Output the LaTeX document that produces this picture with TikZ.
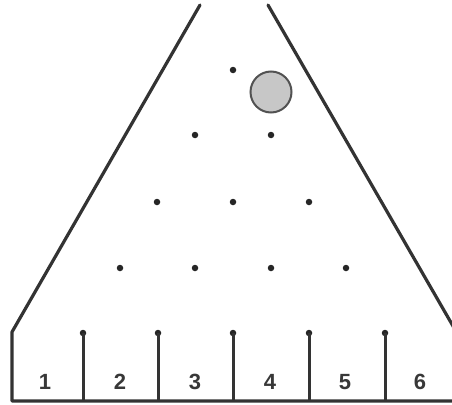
\documentclass[tikz,border=0pt]{standalone}
\usepackage{fontspec}
\setmainfont{Liberation Sans}
\begin{document}
\begin{tikzpicture}[x=1pt,y=-1pt,
  wall/.style={line width=3.2pt,draw=black!80,line cap=round,line join=round},
  divider/.style={line width=3pt,draw=black!80},
  peg/.style={circle,fill=black!85,inner sep=0pt,minimum size=6.5pt},
  ball/.style={circle,fill=black!22,draw=black!68,line width=2pt,minimum size=41pt,inner sep=0pt},
  binlabel/.style={font=\bfseries\fontsize{22}{22}\selectfont,text=black!78,inner sep=0pt}]
\useasboundingbox (0,0) rectangle (452,404);
\clip (0,0) rectangle (452,404);
% walls
\coordinate (lt) at (200,5);
\coordinate (lc) at (12,332);
\coordinate (lb) at (12,401);
\coordinate (rt) at (268,5);
\coordinate (rc) at (457,333);
\coordinate (rb) at (457,401);
\draw[wall] (lt) -- (lc) -- (lb) -- (rb) -- (rc) -- (rt);
% dividers
\foreach \i/\x in {1/83,2/158,3/233,4/309,5/385}{
  \node[peg] (d\i) at (\x,333) {};
  \coordinate (b\i) at (\x,401);
  \draw[divider] (d\i.center) -- (b\i);
}
% pegs
\node[peg] (p11) at (233,70) {};
\node[peg] (p21) at (195,135) {};
\node[peg] (p22) at (271,135) {};
\node[peg] (p31) at (157,202) {};
\node[peg] (p32) at (233,202) {};
\node[peg] (p33) at (309,202) {};
\node[peg] (p41) at (120,268) {};
\node[peg] (p42) at (195,268) {};
\node[peg] (p43) at (271,268) {};
\node[peg] (p44) at (346,268) {};
% ball
\node[ball] (ball) at (271,92) {};
% labels
\foreach \i/\x in {1/45,2/120,3/195,4/270,5/345,6/420}{
  \node[binlabel] (l\i) at (\x,382) {\i};
}
\end{tikzpicture}
\end{document}
